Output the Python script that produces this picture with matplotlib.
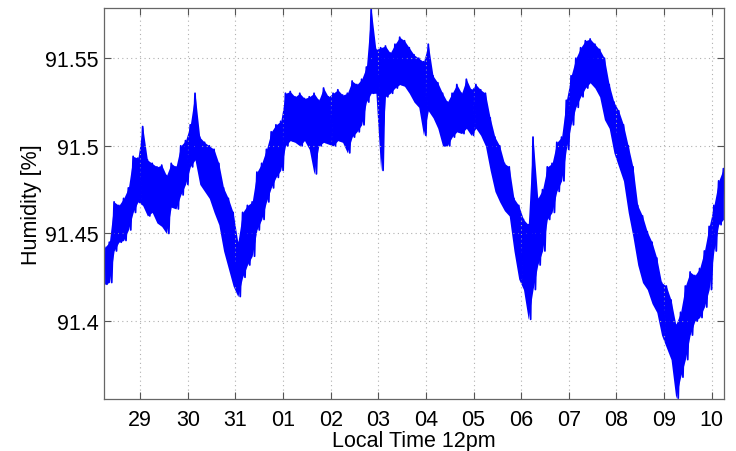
import numpy as np
import matplotlib
matplotlib.use("Agg")
import matplotlib.pyplot as plt

plt.rcParams['font.family'] = ['Liberation Sans', 'DejaVu Sans']

# Time in days relative to 12pm on day "29"
day_labels = ['29', '30', '31', '01', '02', '03', '04', '05', '06', '07', '08', '09', '10']

# Upper / lower envelope of the noisy humidity record, read every 0.1 day from t=-0.75
humidity_high = [
    91.442, 91.445, 91.468, 91.466, 91.470, 91.476, 91.494, 91.493, 91.511, 91.492,
    91.490, 91.488, 91.489, 91.483, 91.490, 91.488, 91.500, 91.503, 91.512, 91.530,
    91.505, 91.502, 91.500, 91.498, 91.490, 91.476, 91.470, 91.462, 91.445, 91.462,
    91.466, 91.468, 91.485, 91.490, 91.498, 91.508, 91.512, 91.514, 91.530, 91.531,
    91.528, 91.530, 91.527, 91.528, 91.530, 91.526, 91.533, 91.528, 91.530, 91.532,
    91.529, 91.530, 91.537, 91.535, 91.538, 91.545, 91.578, 91.555, 91.556, 91.557,
    91.553, 91.558, 91.562, 91.560, 91.556, 91.552, 91.550, 91.548, 91.558, 91.540,
    91.536, 91.530, 91.525, 91.530, 91.535, 91.530, 91.538, 91.532, 91.535, 91.532,
    91.530, 91.516, 91.505, 91.500, 91.490, 91.488, 91.470, 91.466, 91.458, 91.455,
    91.505, 91.470, 91.475, 91.488, 91.490, 91.502, 91.505, 91.526, 91.540, 91.550,
    91.556, 91.560, 91.561, 91.558, 91.555, 91.550, 91.535, 91.525, 91.520, 91.512,
    91.500, 91.488, 91.466, 91.460, 91.451, 91.445, 91.436, 91.422, 91.420, 91.412,
    91.398, 91.405, 91.420, 91.428, 91.426, 91.430, 91.440, 91.454, 91.466, 91.480,
    91.487,
]
humidity_low = [
    91.421, 91.422, 91.440, 91.445, 91.446, 91.452, 91.462, 91.468, 91.466, 91.460,
    91.462, 91.456, 91.454, 91.450, 91.465, 91.464, 91.472, 91.478, 91.488, 91.492,
    91.478, 91.474, 91.470, 91.462, 91.455, 91.440, 91.430, 91.420, 91.414, 91.425,
    91.432, 91.437, 91.452, 91.458, 91.468, 91.476, 91.482, 91.486, 91.500, 91.503,
    91.502, 91.500, 91.503, 91.498, 91.484, 91.500, 91.502, 91.501, 91.500, 91.503,
    91.502, 91.496, 91.505, 91.508, 91.512, 91.525, 91.530, 91.530, 91.486, 91.528,
    91.530, 91.533, 91.535, 91.534, 91.530, 91.525, 91.522, 91.506, 91.520, 91.516,
    91.510, 91.500, 91.500, 91.505, 91.508, 91.507, 91.510, 91.506, 91.510, 91.506,
    91.500, 91.486, 91.474, 91.468, 91.463, 91.460, 91.440, 91.424, 91.418, 91.401,
    91.418, 91.432, 91.440, 91.458, 91.462, 91.474, 91.480, 91.498, 91.512, 91.522,
    91.528, 91.533, 91.536, 91.533, 91.528, 91.515, 91.510, 91.496, 91.488, 91.480,
    91.462, 91.448, 91.432, 91.422, 91.418, 91.410, 91.405, 91.392, 91.385, 91.378,
    91.356, 91.368, 91.378, 91.392, 91.400, 91.402, 91.408, 91.418, 91.440, 91.455,
    91.458,
]

t0, dt = -0.75, 0.1
n = len(humidity_high)
t_high = t0 + dt * np.arange(n)
t_low = t_high + dt / 2
t = np.empty(2 * n)
h = np.empty(2 * n)
t[0::2], t[1::2] = t_high, t_low
h[0::2], h[1::2] = humidity_high, humidity_low

fig = plt.figure(figsize=(7.36, 4.52), dpi=100)
ax = fig.add_axes([0.1417, 0.115, 0.8416, 0.8644])
ax.fill_between(t_high, humidity_low, humidity_high, color='#0000ff', lw=0)
ax.plot(t, h, color='#0000ff', lw=1.3)

ax.set_xlim(-0.756, 12.256)
ax.set_ylim(91.3555, 91.5785)
ax.set_xticks(np.arange(len(day_labels)))
ax.set_xticklabels(day_labels)
ax.set_yticks([91.4, 91.45, 91.5, 91.55])
ax.set_yticklabels(['91.4', '91.45', '91.5', '91.55'])
ax.grid(True, linestyle=(0, (1, 3)), color='#b0b0b0', lw=0.8)
ax.tick_params(direction='in', length=5, width=0.8, color='#555555',
               labelsize=15.5, top=True, right=True)
ax.tick_params(axis='y', pad=4)
ax.tick_params(axis='x', pad=7)
for s in ax.spines.values():
    s.set_color('#666666')
    s.set_linewidth(0.9)
ax.set_xlabel('Local Time 12pm', fontsize=15.5, labelpad=0)
ax.set_ylabel('Humidity [%]', fontsize=15.5, labelpad=2)

fig.savefig('out.png', dpi=100)
